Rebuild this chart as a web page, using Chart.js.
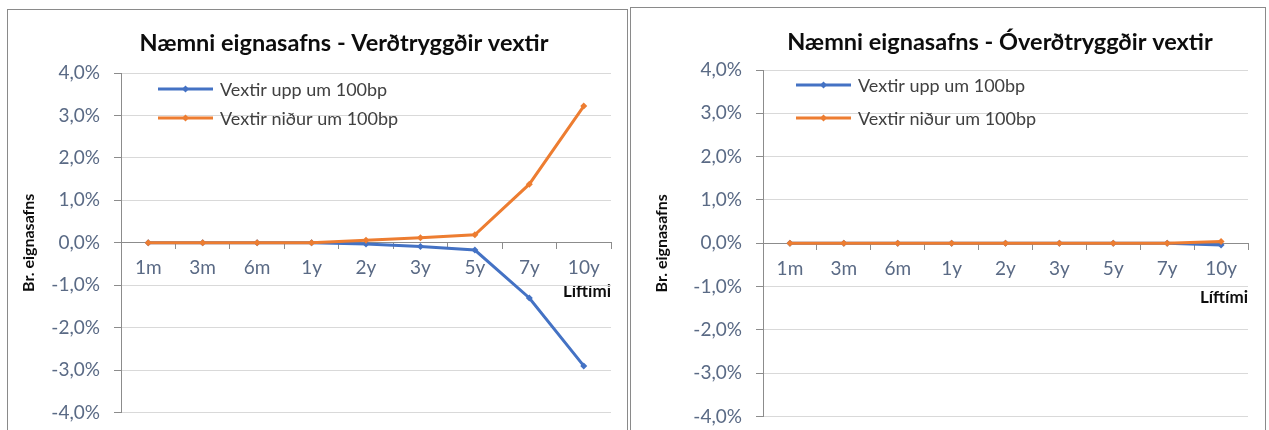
<!DOCTYPE html>
<html lang="is">
<head>
  <meta charset="UTF-8" />
  <title>Næmni eignasafns</title>
  <style>
    body {
      margin: 0;
      background: #fff;
      width: 1269px;
      height: 430px;
      overflow: hidden;
      position: relative;
      font-family: Lato, sans-serif;
    }

    .frame {
      position: absolute;
      border: 1px solid #8a8a8a;
      background: #fff;
    }

    #frameLeft { left: 7px; top: 9px; width: 619px; height: 440px; }
    #frameRight { left: 630px; top: 7px; width: 634px; height: 440px; }

    .frame canvas { position: absolute; left: 0; top: 0; }
  </style>
</head>
<body>
  <div class="frame" id="frameLeft">
    <canvas id="indexedChart" width="619" height="428"></canvas>
  </div>
  <div class="frame" id="frameRight">
    <canvas id="nominalChart" width="634" height="434"></canvas>
  </div>

  <script src="https://cdn.jsdelivr.net/npm/chart.js"></script>
  <script>
    // Líftími (maturity buckets)
    const maturities = ['1m', '3m', '6m', '1y', '2y', '3y', '5y', '7y', '10y'];

    // Verðtryggðir vextir, % change in portfolio value
    const indexedUp = [0, 0, 0, 0, -0.03, -0.09, -0.17, -1.30, -2.90];
    const indexedDown = [0, 0, 0, 0, 0.06, 0.12, 0.19, 1.38, 3.22];

    // Óverðtryggðir vextir
    const nominalUp = [0, 0, 0, 0, 0, 0, 0, 0, -0.04];
    const nominalDown = [0, 0, 0, 0, 0, 0, 0, 0, 0.04];

    const seriesNames = ['Vextir upp um 100bp', 'Vextir niður um 100bp'];
    const yTicks = [-4, -3, -2, -1, 0, 1, 2, 3, 4];

    const blue = '#4472c4';
    const orange = '#ed7d31';
    const axisGrey = '#8c8c8c';
    const gridGrey = '#d9d9d9';
    const tickText = '#5a6a85';

    // draws the chart title and the in-plot legend like Excel does
    const excelText = {
      id: 'excelText',
      afterDraw(chart, args, opts) {
        const ctx = chart.ctx;
        const area = chart.chartArea;
        ctx.save();
        ctx.fillStyle = '#0d0d0d';
        ctx.font = 'bold 23.5px Lato';
        ctx.textAlign = 'center';
        ctx.textBaseline = 'middle';
        ctx.fillText(opts.title, opts.titleX, opts.titleY);

        ctx.font = '18px Lato';
        ctx.textAlign = 'left';
        chart.data.datasets.forEach((ds, i) => {
          const x0 = area.left + opts.legendX;
          const y = area.top + opts.legendY[i];
          ctx.strokeStyle = ds.borderColor;
          ctx.lineWidth = 3;
          ctx.beginPath();
          ctx.moveTo(x0, y);
          ctx.lineTo(x0 + 55, y);
          ctx.stroke();
          ctx.fillStyle = ds.borderColor;
          ctx.beginPath();
          ctx.moveTo(x0 + 27.5, y - 3.5);
          ctx.lineTo(x0 + 31, y);
          ctx.lineTo(x0 + 27.5, y + 3.5);
          ctx.lineTo(x0 + 24, y);
          ctx.closePath();
          ctx.fill();
          ctx.fillStyle = '#404040';
          ctx.fillText(ds.label, x0 + 62, y + 1);
        });
        ctx.restore();
      }
    };

    function makeChart(canvasId, upValues, downValues, setup) {
      const ctx = document.getElementById(canvasId).getContext('2d');
      return new Chart(ctx, {
        type: 'line',
        data: {
          labels: maturities,
          datasets: [
            {
              label: seriesNames[0],
              data: upValues,
              borderColor: blue,
              backgroundColor: blue,
              borderWidth: 3,
              pointStyle: 'rectRot',
              pointRadius: 3.5,
              pointBorderWidth: 0,
              order: 1
            },
            {
              label: seriesNames[1],
              data: downValues,
              borderColor: orange,
              backgroundColor: orange,
              borderWidth: 3,
              pointStyle: 'rectRot',
              pointRadius: 3.5,
              pointBorderWidth: 0,
              order: 0
            }
          ]
        },
        options: {
          responsive: false,
          animation: false,
          layout: {
            padding: { left: 0, top: setup.top, right: setup.right, bottom: 0 }
          },
          plugins: {
            legend: { display: false },
            title: { display: false },
            tooltip: { enabled: false },
            excelText: {
              title: setup.title,
              titleX: setup.titleX,
              titleY: setup.titleY,
              legendX: setup.legendX,
              legendY: setup.legendY
            }
          },
          scales: {
            x: {
              position: { y: 0 },
              offset: true,
              grid: {
                offset: true,
                drawOnChartArea: false,
                drawTicks: true,
                tickLength: 6,
                tickColor: axisGrey
              },
              border: { color: axisGrey, width: 1 },
              ticks: {
                color: tickText,
                font: { family: 'Lato', size: 19 },
                padding: 8,
                maxRotation: 0,
                autoSkip: false
              },
              title: {
                display: true,
                text: 'Líftími',
                align: 'end',
                color: '#0d0d0d',
                font: { family: 'Lato', size: 17, weight: 'bold' },
                padding: { top: setup.xTitlePad, bottom: 0 }
              }
            },
            y: {
              min: -4,
              max: 4,
              afterFit: (scale) => { scale.width = setup.axisWidth; },
              afterBuildTicks: (scale) => { scale.ticks = yTicks.map(v => ({ value: v })); },
              grid: {
                color: gridGrey,
                tickLength: 7,
                tickColor: axisGrey
              },
              border: { color: axisGrey, width: 1 },
              ticks: {
                color: tickText,
                font: { family: 'Lato', size: 19 },
                padding: 14,
                callback: (v) => v.toFixed(1).replace('.', ',') + '%'
              },
              title: {
                display: true,
                text: 'Br. eignasafns',
                color: '#0d0d0d',
                font: { family: 'Lato', size: 16, weight: 'bold' },
                padding: { top: setup.yTitlePad, bottom: 0 }
              }
            }
          }
        },
        plugins: [excelText]
      });
    }

    makeChart('indexedChart', indexedUp, indexedDown, {
      title: 'Næmni eignasafns - Verðtryggðir vextir',
      titleX: 336, titleY: 33,
      top: 63, right: 16,
      axisWidth: 113, yTitlePad: 11, xTitlePad: -6,
      legendX: 37, legendY: [16, 45]
    });

    makeChart('nominalChart', nominalUp, nominalDown, {
      title: 'Næmni eignasafns - Óverðtryggðir vextir',
      titleX: 369, titleY: 34,
      top: 62, right: 17,
      axisWidth: 132, yTitlePad: 21, xTitlePad: -1,
      legendX: 33, legendY: [15, 48]
    });
  </script>
</body>
</html>
